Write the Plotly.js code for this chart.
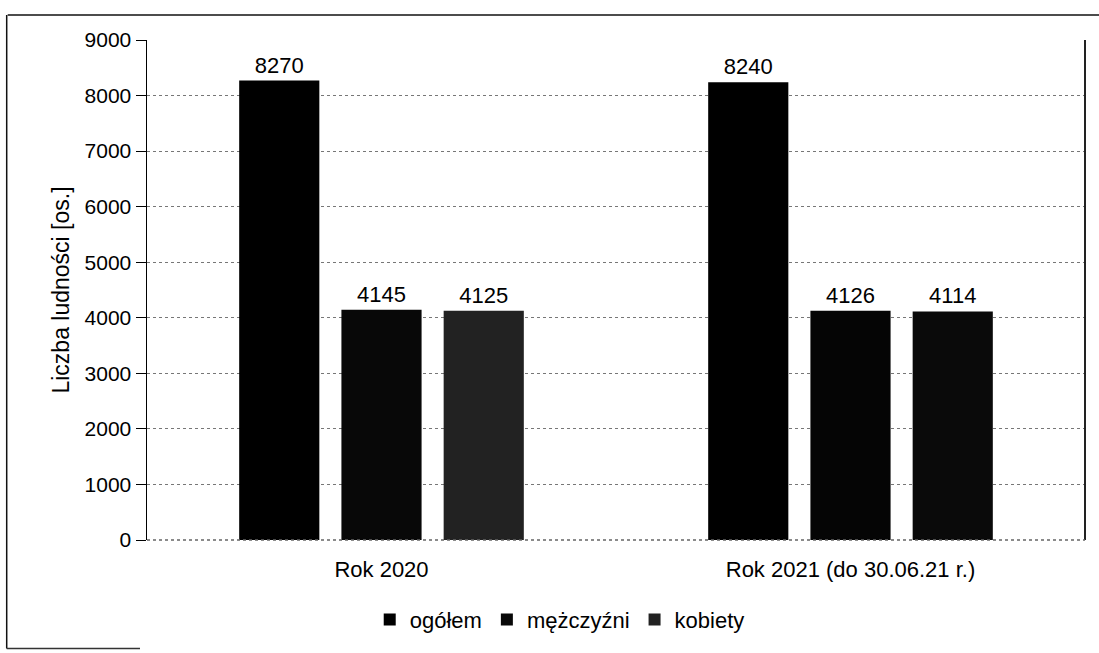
<!DOCTYPE html>
<html><head><meta charset="utf-8">
<script src="https://cdn.plot.ly/plotly-3.0.1.min.js"></script>
<style>html,body{margin:0;padding:0;background:#fff}#c{width:1099px;height:653px}</style>
</head><body><div id="c"></div>
<script>
const categories = ["Rok 2020", "Rok 2021 (do 30.06.21 r.)"];
const seriesNames = ["ogółem", "mężczyźni", "kobiety"];
const ogolem = [8270, 8240];
const mezczyzni = [4145, 4126];
const kobiety = [4125, 4114];
const seriesValues = [ogolem, mezczyzni, kobiety];
const colors = [["#000000", "#000000"], ["#080808", "#050505"], ["#222222", "#0a0a0a"]];

const traces = seriesValues.map((vals, i) => ({
  type: "bar", name: seriesNames[i], x: categories, y: vals,
  marker: {color: colors[i], line: {width: 0}},
  text: vals.map(String), textposition: "outside",
  textfont: {family: "Liberation Sans, Arial", size: 22, color: "#000"},
  cliponaxis: false
}));

const PX = px => (px - 147) / 936;
const PY = py => (542 - py) / 502;

const layout = {
  width: 1099, height: 653,
  margin: {l: 147, r: 14, t: 40, b: 111},
  paper_bgcolor: "#fff", plot_bgcolor: "#fff",
  font: {family: "Liberation Sans, Arial", size: 21, color: "#000"},
  barmode: "group", bargap: 0.346, bargroupgap: 0.216,
  showlegend: true,
  legend: {orientation: "h", x: 0.44, xanchor: "center", y: PY(622), yanchor: "middle",
           font: {size: 22}, itemwidth: 30, traceorder: "normal", tracegroupgap: 0},
  xaxis: {showgrid: false, showline: false, ticks: "", tickfont: {size: 22}, zeroline: false,
          ticklabelstandoff: 14},
  yaxis: {range: [0, 9000], dtick: 1000, showgrid: true, gridcolor: "#777", griddash: "dot",
          gridwidth: 1.2, showline: true, linecolor: "#000", linewidth: 1.5, ticks: "outside",
          ticklen: 10, tickcolor: "#000", zeroline: false, tickfont: {size: 21},
          title: {text: "Liczba ludności [os.]", font: {size: 23}, standoff: 8}},
  shapes: [
    {type: "line", xref: "paper", yref: "paper", x0: 1, x1: 1, y0: 0, y1: 1, line: {color: "#222", width: 2}},
    {type: "line", xref: "paper", yref: "paper", x0: 0, x1: 1, y0: 0, y1: 0, line: {color: "#666", width: 1.5, dash: "dot"}},
    {type: "line", xref: "paper", yref: "paper", x0: PX(8), x1: PX(1099), y0: PY(15), y1: PY(15), line: {color: "#111", width: 1.5}},
    {type: "line", xref: "paper", yref: "paper", x0: PX(7), x1: PX(7), y0: PY(15), y1: PY(651), line: {color: "#111", width: 1.5}},
    {type: "line", xref: "paper", yref: "paper", x0: PX(7), x1: PX(140), y0: PY(651), y1: PY(651), line: {color: "#333", width: 1.5}}
  ]
};
Plotly.newPlot("c", traces, layout, {displayModeBar: false, staticPlot: true});
</script></body></html>
